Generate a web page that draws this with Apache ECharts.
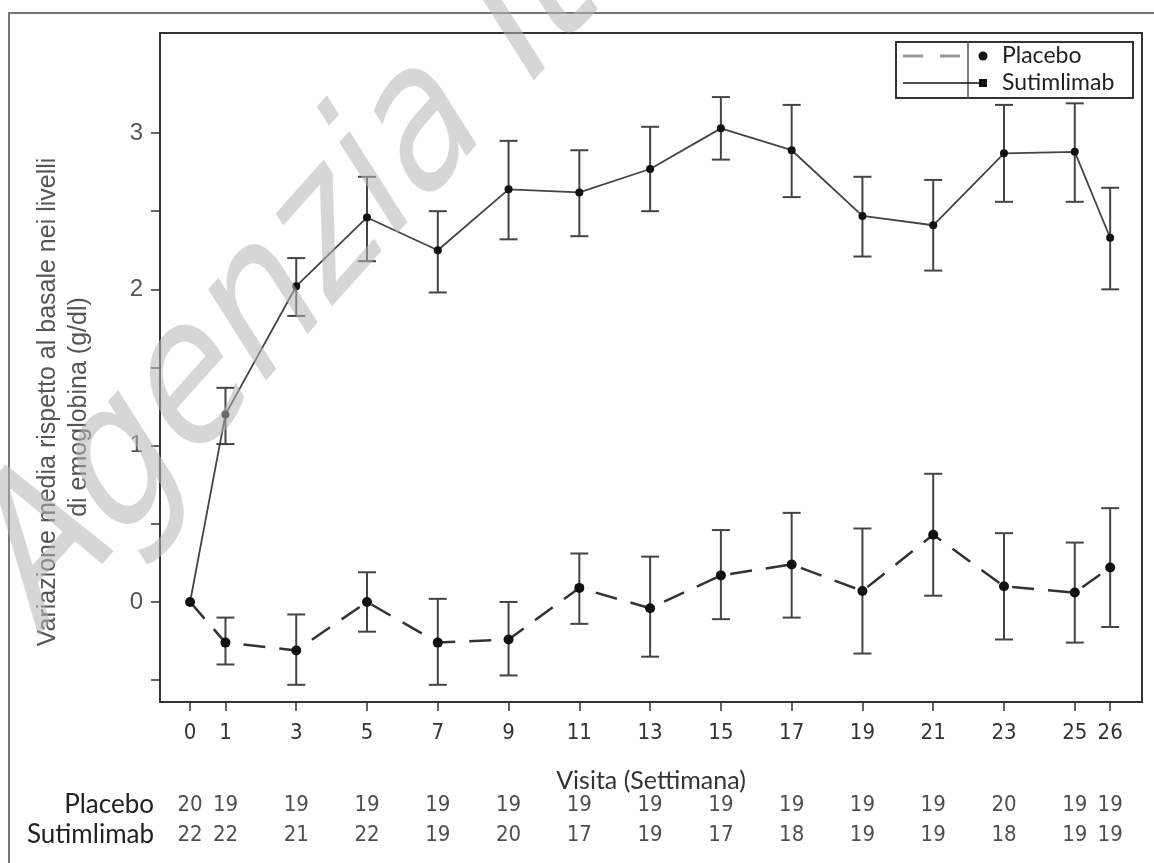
<!DOCTYPE html>
<html>
<head>
<meta charset="utf-8">
<script src="https://cdn.jsdelivr.net/npm/echarts@6/dist/echarts.min.js"></script>
<style>
  html, body { margin: 0; padding: 0; background: #fff; }
  #chart { width: 1154px; height: 863px; }
</style>
</head>
<body>
<div id="chart"></div>
<script>
// weeks (visits) and values
const weeks = [0, 1, 3, 5, 7, 9, 11, 13, 15, 17, 19, 21, 23, 25, 26];
const placeboMean = [0, -0.26, -0.31, 0, -0.26, -0.24, 0.09, -0.04, 0.17, 0.24, 0.07, 0.43, 0.10, 0.06, 0.22];
const placeboLow = [null, -0.40, -0.53, -0.19, -0.53, -0.47, -0.14, -0.35, -0.11, -0.10, -0.33, 0.04, -0.24, -0.26, -0.16];
const placeboHigh = [null, -0.10, -0.08, 0.19, 0.02, 0.00, 0.31, 0.29, 0.46, 0.57, 0.47, 0.82, 0.44, 0.38, 0.60];
const sutMean = [0, 1.20, 2.02, 2.46, 2.25, 2.64, 2.62, 2.77, 3.03, 2.89, 2.47, 2.41, 2.87, 2.88, 2.33];
const sutLow = [null, 1.01, 1.83, 2.18, 1.98, 2.32, 2.34, 2.50, 2.83, 2.59, 2.21, 2.12, 2.56, 2.56, 2.00];
const sutHigh = [null, 1.37, 2.20, 2.72, 2.50, 2.95, 2.89, 3.04, 3.23, 3.18, 2.72, 2.70, 3.18, 3.19, 2.65];
const placeboN = [20, 19, 19, 19, 19, 19, 19, 19, 19, 19, 19, 19, 20, 19, 19];
const sutN = [22, 22, 21, 22, 19, 20, 17, 19, 17, 18, 19, 19, 18, 19, 19];
const yTicks = [-0.5, 0, 0.5, 1, 1.5, 2, 2.5, 3];
const yLabels = [0, 1, 2, 3];
const rowNames = ['Placebo', 'Sutimlimab'];

const narrow = "'Liberation Sans Narrow', 'Arial Narrow', 'DejaVu Sans Condensed', 'Liberation Sans', sans-serif";
const sans = "'Liberation Sans', Arial, sans-serif";
const human = "Lato, 'Open Sans', sans-serif";

var chart = echarts.init(document.getElementById('chart'));

const errorData = (low, high) => weeks
    .map((w, i) => [w, low[i], high[i]])
    .filter(d => d[1] !== null);

const renderError = (params, api) => {
    const top = api.coord([api.value(0), api.value(2)]);
    const bot = api.coord([api.value(0), api.value(1)]);
    const half = 9;
    const style = {stroke: '#444', lineWidth: 2};
    return {
        type: 'group',
        children: [
            {type: 'line', shape: {x1: top[0], y1: top[1], x2: bot[0], y2: bot[1]}, style},
            {type: 'line', shape: {x1: top[0] - half, y1: top[1], x2: top[0] + half, y2: top[1]}, style},
            {type: 'line', shape: {x1: bot[0] - half, y1: bot[1], x2: bot[0] + half, y2: bot[1]}, style}
        ]
    };
};

const countLabel = {
    show: true,
    position: 'inside',
    formatter: p => p.value[2],
    fontFamily: narrow,
    fontSize: 22,
    color: '#222'
};

var option = {
    animation: false,
    backgroundColor: '#fff',
    grid: [
        {left: 160, right: 12, top: 33, bottom: 161, show: true, borderColor: '#333', borderWidth: 2},
        {left: 160, right: 12, top: 790, height: 60}
    ],
    xAxis: [
        {
            type: 'value', gridIndex: 0, min: -0.85, max: 26.9,
            axisLine: {show: false, onZero: false},
            splitLine: {show: false},
            axisTick: {show: true, customValues: weeks, length: 9, lineStyle: {color: '#333', width: 1.5}},
            axisLabel: {customValues: weeks, margin: 20, fontFamily: narrow, fontSize: 22, color: '#333'},
            name: 'Visita (Settimana)', nameLocation: 'middle', nameGap: 66,
            nameTextStyle: {fontFamily: human, fontSize: 25, color: '#333'}
        },
        {type: 'value', gridIndex: 1, min: -0.85, max: 26.9, show: false}
    ],
    yAxis: [
        {
            type: 'value', gridIndex: 0, min: -0.64, max: 3.64,
            axisLine: {show: false, onZero: false},
            splitLine: {show: false},
            axisTick: {show: true, customValues: yTicks, length: 9, lineStyle: {color: '#333', width: 1.5}},
            axisLabel: {customValues: yLabels, margin: 17, fontFamily: sans, fontSize: 24, color: '#555'}
        },
        {
            type: 'category', gridIndex: 1, data: rowNames, inverse: true,
            axisLine: {show: false}, axisTick: {show: false}, splitLine: {show: false},
            axisLabel: {interval: 0, margin: 6, fontFamily: human, fontSize: 26, color: '#222'}
        }
    ],
    series: [
        {
            name: 'Placebo', type: 'line', xAxisIndex: 0, yAxisIndex: 0, z: 3,
            data: weeks.map((w, i) => [w, placeboMean[i]]),
            lineStyle: {color: '#333', width: 2.5, type: [22, 14]},
            symbol: 'circle', symbolSize: 10, itemStyle: {color: '#111'}
        },
        {
            name: 'Sutimlimab', type: 'line', xAxisIndex: 0, yAxisIndex: 0, z: 3,
            data: weeks.map((w, i) => [w, sutMean[i]]),
            lineStyle: {color: '#444', width: 1.8},
            symbol: 'circle', symbolSize: 8, itemStyle: {color: '#111'}
        },
        {
            type: 'custom', xAxisIndex: 0, yAxisIndex: 0, z: 2,
            data: errorData(placeboLow, placeboHigh), renderItem: renderError
        },
        {
            type: 'custom', xAxisIndex: 0, yAxisIndex: 0, z: 2,
            data: errorData(sutLow, sutHigh), renderItem: renderError
        },
        {
            type: 'scatter', xAxisIndex: 1, yAxisIndex: 1, symbolSize: 1,
            itemStyle: {color: 'transparent'}, label: countLabel,
            data: weeks.map((w, i) => [w, rowNames[0], placeboN[i]])
        },
        {
            type: 'scatter', xAxisIndex: 1, yAxisIndex: 1, symbolSize: 1,
            itemStyle: {color: 'transparent'}, label: countLabel,
            data: weeks.map((w, i) => [w, rowNames[1], sutN[i]])
        }
    ],
    graphic: [
        // outer frame of the figure
        {type: 'rect', shape: {x: 9, y: 13, width: 1200, height: 900}, style: {fill: 'none', stroke: '#777', lineWidth: 2}, z: 1},
        // y axis title
        {
            type: 'text', x: 48, y: 402, rotation: Math.PI / 2,
            style: {text: 'Variazione media rispetto al basale nei livelli', font: '25px ' + sans, fill: '#555', textAlign: 'center', textVerticalAlign: 'middle'}
        },
        {
            type: 'text', x: 79, y: 407, rotation: Math.PI / 2,
            style: {text: 'di emoglobina (g/dl)', font: '25px ' + sans, fill: '#555', textAlign: 'center', textVerticalAlign: 'middle'}
        },
        // legend
        {type: 'rect', shape: {x: 896, y: 42, width: 237, height: 56}, style: {fill: '#fff', stroke: '#333', lineWidth: 2}, z: 10},
        {type: 'line', shape: {x1: 968, y1: 42, x2: 968, y2: 98}, style: {stroke: '#555', lineWidth: 1.5}, z: 11},
        {type: 'line', shape: {x1: 903, y1: 56, x2: 962, y2: 56}, style: {stroke: '#999', lineWidth: 3, lineDash: [20, 17]}, z: 11},
        {type: 'circle', shape: {cx: 983, cy: 56, r: 4.5}, style: {fill: '#111'}, z: 11},
        {type: 'text', x: 1002, y: 56, style: {text: 'Placebo', font: '23px ' + human, fill: '#222', textVerticalAlign: 'middle'}, z: 11},
        {type: 'line', shape: {x1: 903, y1: 83, x2: 983, y2: 83}, style: {stroke: '#111', lineWidth: 1.5}, z: 11},
        {type: 'rect', shape: {x: 979, y: 79, width: 8, height: 8}, style: {fill: '#111'}, z: 11},
        {type: 'text', x: 1002, y: 83, style: {text: 'Sutimlimab', font: '23px ' + human, fill: '#222', textVerticalAlign: 'middle'}, z: 11},
        // watermark (stretched vertically like the scanned page)
        {
            type: 'group', x: 0, y: 0, scaleY: 1.33, z: 100,
            children: [{
                type: 'text', x: 10, y: 446, rotation: 0.70, z: 100,
                style: {text: 'Agenzia Italiana', font: '164px ' + narrow, fill: 'rgba(180,180,180,0.55)', textAlign: 'left', textVerticalAlign: 'middle'}
            }]
        }
    ]
};

chart.setOption(option);
</script>
</body>
</html>
